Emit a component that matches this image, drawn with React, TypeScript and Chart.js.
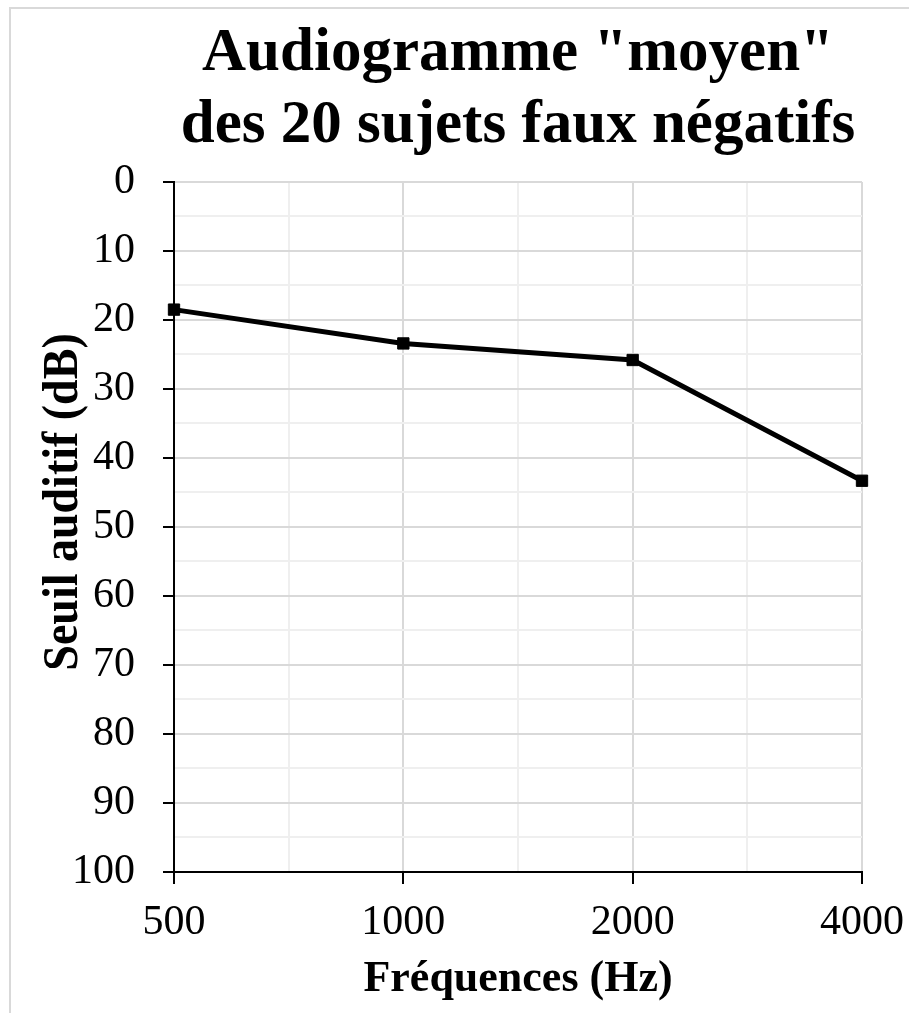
import React, { useEffect, useRef } from "react";
import { Chart, registerables } from "chart.js";

Chart.register(...registerables);

// ---- Data ----
const frequencies = ["500", "1000", "2000", "4000"];
const thresholds = [18.5, 23.4, 25.8, 43.3];
const titleLines = ['Audiogramme "moyen"', "des 20 sujets faux négatifs"];
const xAxisTitle = "Fréquences (Hz)";
const yAxisTitle = "Seuil auditif (dB)";
const yMin = 0;
const yMax = 100;
const yMajorStep = 10;
const yMinorStep = 5;

const FONT = "'Liberation Serif', 'Times New Roman', serif";
const W = 909;
const H = 1013;

const framePlugin = {
  id: "frame",
  beforeDraw(chart: any) {
    const ctx = chart.ctx;
    ctx.save();
    ctx.fillStyle = "#ffffff";
    ctx.fillRect(0, 0, chart.width, chart.height);
    ctx.strokeStyle = "#d9d9d9";
    ctx.lineWidth = 2;
    ctx.strokeRect(10, 8, chart.width + 20, chart.height + 20);
    ctx.restore();
  },
};

const yTitlePlugin = {
  id: "yTitle",
  afterDraw(chart: any) {
    const ctx = chart.ctx;
    ctx.save();
    ctx.translate(64, 502);
    ctx.rotate(-Math.PI / 2);
    ctx.scale(0.92, 1);
    ctx.font = `bold 50px ${FONT}`;
    ctx.fillStyle = "#000";
    ctx.textAlign = "center";
    ctx.textBaseline = "middle";
    ctx.fillText(yAxisTitle, 0, 0);
    ctx.restore();
  },
};

export default function App() {
  const ref = useRef<HTMLCanvasElement | null>(null);

  useEffect(() => {
    if (!ref.current) return;
    const chart = new Chart(ref.current, {
      type: "line",
      data: {
        datasets: [
          {
            data: thresholds.map((y, i) => ({ x: i, y })),
            borderColor: "#000",
            borderWidth: 5,
            pointStyle: "rect",
            pointRadius: 8,
            pointBackgroundColor: "#000",
            pointBorderColor: "#000",
            pointBorderWidth: 1,
            tension: 0,
            clip: false,
          } as any,
        ],
      },
      options: {
        responsive: false,
        animation: false,
        layout: { padding: { top: 0, left: 0, right: 47, bottom: 0 } },
        plugins: {
          legend: { display: false },
          tooltip: { enabled: false },
          title: {
            display: true,
            text: titleLines,
            fullSize: false,
            color: "#000",
            font: { family: FONT, size: 61, weight: "bold", lineHeight: 1.18 },
            padding: { top: 18, bottom: 20 },
          },
        },
        scales: {
          x: {
            type: "linear",
            min: 0,
            max: frequencies.length - 1,
            afterFit: (s: any) => {
              s.height = 141;
              s.paddingRight = 0;
              s.paddingLeft = 0;
            },
            ticks: {
              stepSize: 0.5,
              autoSkip: false,
              maxRotation: 0,
              padding: 14,
              color: "#000",
              font: { family: FONT, size: 42 },
              callback: (v: any) =>
                Number.isInteger(v) ? frequencies[v as number] : "",
            },
            grid: {
              color: (c: any) =>
                c.tick && Number.isInteger(c.tick.value) ? "#d9d9d9" : "#efefef",
              lineWidth: 2,
              tickLength: 12,
              tickWidth: 2,
              tickColor: (c: any) =>
                c.tick && Number.isInteger(c.tick.value) ? "#000" : "rgba(0,0,0,0)",
            },
            border: { display: true, color: "#000", width: 2 },
            title: {
              display: true,
              text: xAxisTitle,
              color: "#000",
              font: { family: FONT, size: 44, weight: "bold", lineHeight: 1.2 },
              padding: { top: 0, bottom: 7 },
            },
          },
          y: {
            type: "linear",
            reverse: true,
            min: yMin,
            max: yMax,
            afterFit: (s: any) => {
              s.width = 174;
            },
            ticks: {
              stepSize: yMinorStep,
              autoSkip: false,
              padding: 28,
              color: "#000",
              font: { family: FONT, size: 42 },
              callback: (v: any) => ((v as number) % yMajorStep === 0 ? String(v) : ""),
            },
            grid: {
              color: (c: any) =>
                c.tick && c.tick.value % yMajorStep === 0 ? "#d9d9d9" : "#efefef",
              lineWidth: 2,
              tickLength: 11,
              tickWidth: 2,
              tickColor: (c: any) =>
                c.tick && c.tick.value % yMajorStep === 0 ? "#000" : "rgba(0,0,0,0)",
            },
            border: { display: true, color: "#000", width: 2 },
          },
        },
      },
      plugins: [framePlugin, yTitlePlugin],
    });
    return () => chart.destroy();
  }, []);

  return (
    <div style={{ position: "fixed", left: 0, top: 0, width: W, height: H }}>
      <canvas ref={ref} width={W} height={H} style={{ width: W, height: H, display: "block" }} />
    </div>
  );
}
